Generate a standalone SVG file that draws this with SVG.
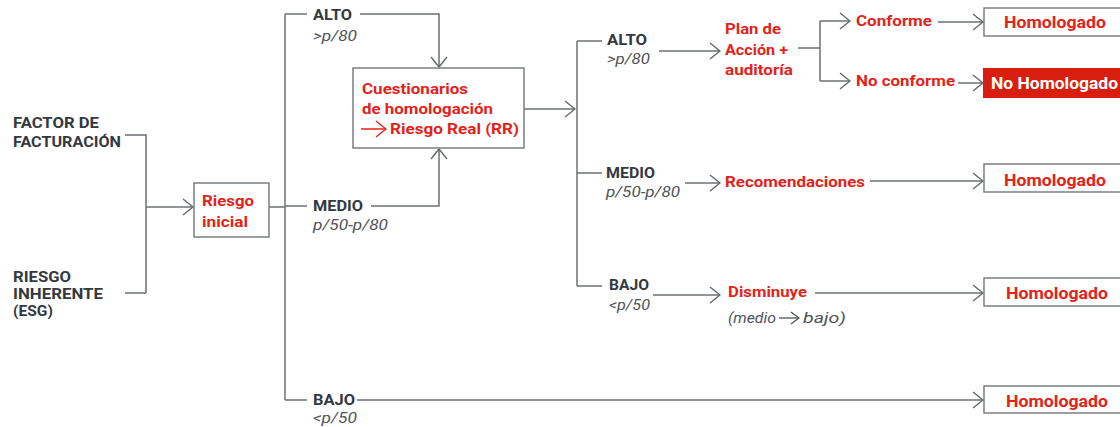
<svg xmlns="http://www.w3.org/2000/svg" width="1120" height="427" viewBox="0 0 1120 427">
<defs>
<marker id="ah" markerUnits="userSpaceOnUse" viewBox="0 0 12 18" refX="11" refY="9" markerWidth="12" markerHeight="18" orient="auto">
<path d="M1,1 L11,9 L1,17" fill="none" stroke="#62676c" stroke-width="1.4"/>
</marker>
<marker id="ahr" markerUnits="userSpaceOnUse" viewBox="0 0 12 18" refX="11" refY="9" markerWidth="12" markerHeight="18" orient="auto">
<path d="M1,1 L11,9 L1,17" fill="none" stroke="#e2231a" stroke-width="1.4"/>
</marker>
<marker id="ahs" markerUnits="userSpaceOnUse" viewBox="0 0 10 14" refX="9" refY="7" markerWidth="10" markerHeight="14" orient="auto">
<path d="M1,1 L9,7 L1,13" fill="none" stroke="#4e5358" stroke-width="1.3"/>
</marker>
</defs>
<style>
.ln{fill:none;stroke:#6b7075;stroke-width:1.5}
.box{fill:#fff;stroke:#7a7f84;stroke-width:1.5}
.lab{font-family:Roboto,"Liberation Sans",sans-serif;font-weight:700;font-size:15.5px;fill:#33393f}
.it{font-family:Roboto,"Liberation Sans",sans-serif;font-style:italic;font-size:15.5px;fill:#4e5358}
.red{font-family:Roboto,"Liberation Sans",sans-serif;font-weight:700;font-size:15px;fill:#e2231a}
.hom{font-family:Roboto,"Liberation Sans",sans-serif;font-weight:700;font-size:16px;fill:#e2231a}
.noh{font-family:Roboto,"Liberation Sans",sans-serif;font-weight:700;font-size:17px;fill:#fff}
</style>
<rect width="1120" height="427" fill="#fff"/>

<g id="connectors">
<path class="ln" d="M125,135 H146 V293 M125,293 H146"/>
<path class="ln" d="M146,207 H193" marker-end="url(#ah)"/>
<path class="ln" d="M269,207 H285"/>
<path class="ln" d="M285,14 V400"/>
<path class="ln" d="M285,14 H307"/>
<path class="ln" d="M360,14 H439 V67" marker-end="url(#ah)"/>
<path class="ln" d="M285,206 H307"/>
<path class="ln" d="M371,206 H439 V149" marker-end="url(#ah)"/>
<path class="ln" d="M285,400 H307"/>
<path class="ln" d="M357,400 H983" marker-end="url(#ah)"/>
<path class="ln" d="M524,109 H575" marker-end="url(#ah)"/>
<path class="ln" d="M577,41 V286"/>
<path class="ln" d="M577,41 H602"/>
<path class="ln" d="M659,51 H720" marker-end="url(#ah)"/>
<path class="ln" d="M798,48 H820 M820,21 V81"/>
<path class="ln" d="M820,21 H850" marker-end="url(#ah)"/>
<path class="ln" d="M820,81 H850" marker-end="url(#ah)"/>
<path class="ln" d="M938,22 H983" marker-end="url(#ah)"/>
<path class="ln" d="M958,83 H983" marker-end="url(#ah)"/>
<path class="ln" d="M577,173 H602"/>
<path class="ln" d="M685,183 H720" marker-end="url(#ah)"/>
<path class="ln" d="M870,181 H983" marker-end="url(#ah)"/>
<path class="ln" d="M577,286 H602"/>
<path class="ln" d="M653,295 H720" marker-end="url(#ah)"/>
<path class="ln" d="M815,293 H983" marker-end="url(#ah)"/>
</g>

<g id="factor-facturacion">
<text class="lab" x="13" y="128" textLength="86" lengthAdjust="spacingAndGlyphs">FACTOR DE</text>
<text class="lab" x="13" y="147" textLength="108" lengthAdjust="spacingAndGlyphs">FACTURACIÓN</text>
</g>
<g id="riesgo-inherente">
<text class="lab" x="13" y="282" textLength="58" lengthAdjust="spacingAndGlyphs">RIESGO</text>
<text class="lab" x="13" y="299" textLength="90" lengthAdjust="spacingAndGlyphs">INHERENTE</text>
<text class="lab" x="13" y="316" textLength="40" lengthAdjust="spacingAndGlyphs">(ESG)</text>
</g>
<g id="riesgo-inicial">
<rect class="box" x="194" y="183" width="75" height="54"/>
<text class="red" x="202" y="206" textLength="52" lengthAdjust="spacingAndGlyphs">Riesgo</text>
<text class="red" x="202" y="227" textLength="46" lengthAdjust="spacingAndGlyphs">inicial</text>
</g>
<g id="alto-1">
<text class="lab" x="313" y="20" textLength="39" lengthAdjust="spacingAndGlyphs">ALTO</text>
<text class="it" x="313" y="41" textLength="44" lengthAdjust="spacingAndGlyphs">&gt;p/80</text>
</g>
<g id="medio-1">
<text class="lab" x="313" y="211" textLength="50" lengthAdjust="spacingAndGlyphs">MEDIO</text>
<text class="it" x="313" y="230" textLength="75" lengthAdjust="spacingAndGlyphs">p/50-p/80</text>
</g>
<g id="bajo-1">
<text class="lab" x="313" y="405" textLength="42" lengthAdjust="spacingAndGlyphs">BAJO</text>
<text class="it" x="313" y="423" textLength="44" lengthAdjust="spacingAndGlyphs">&lt;p/50</text>
</g>
<g id="cuestionarios">
<rect class="box" x="353" y="68" width="171" height="80"/>
<text class="red" x="362" y="94" textLength="106" lengthAdjust="spacingAndGlyphs">Cuestionarios</text>
<text class="red" x="362" y="114" textLength="131" lengthAdjust="spacingAndGlyphs">de homologación</text>
<path d="M361,129 H386" fill="none" stroke="#e2231a" stroke-width="1.5" marker-end="url(#ahr)"/>
<text class="red" x="390" y="134" textLength="129" lengthAdjust="spacingAndGlyphs">Riesgo Real (RR)</text>
</g>
<g id="alto-2">
<text class="lab" x="607" y="45" textLength="40" lengthAdjust="spacingAndGlyphs">ALTO</text>
<text class="it" x="607" y="64" textLength="43" lengthAdjust="spacingAndGlyphs">&gt;p/80</text>
</g>
<g id="plan-accion">
<text class="red" x="725" y="34" textLength="56" lengthAdjust="spacingAndGlyphs">Plan de</text>
<text class="red" x="725" y="55" textLength="63" lengthAdjust="spacingAndGlyphs">Acción +</text>
<text class="red" x="725" y="75" textLength="68" lengthAdjust="spacingAndGlyphs">auditoría</text>
</g>
<g id="conforme">
<text class="red" x="856" y="26" textLength="76" lengthAdjust="spacingAndGlyphs">Conforme</text>
</g>
<g id="no-conforme">
<text class="red" x="856" y="86" textLength="99" lengthAdjust="spacingAndGlyphs">No conforme</text>
</g>
<g id="homologado-1">
<rect class="box" x="984" y="8" width="145" height="28"/>
<text class="hom" x="1004" y="28" textLength="102" lengthAdjust="spacingAndGlyphs">Homologado</text>
</g>
<g id="no-homologado">
<rect x="983" y="68" width="145" height="30" fill="#d81e0f"/>
<text class="noh" x="991" y="89" textLength="127" lengthAdjust="spacingAndGlyphs">No Homologado</text>
</g>
<g id="medio-2">
<text class="lab" x="606" y="178" textLength="49" lengthAdjust="spacingAndGlyphs">MEDIO</text>
<text class="it" x="606" y="197" textLength="74" lengthAdjust="spacingAndGlyphs">p/50-p/80</text>
</g>
<g id="recomendaciones">
<text class="red" x="725" y="187" textLength="140" lengthAdjust="spacingAndGlyphs">Recomendaciones</text>
</g>
<g id="homologado-2">
<rect class="box" x="984" y="164" width="145" height="28"/>
<text class="hom" x="1004" y="186" textLength="102" lengthAdjust="spacingAndGlyphs">Homologado</text>
</g>
<g id="bajo-2">
<text class="lab" x="609" y="290" textLength="40" lengthAdjust="spacingAndGlyphs">BAJO</text>
<text class="it" x="609" y="310" textLength="41" lengthAdjust="spacingAndGlyphs">&lt;p/50</text>
</g>
<g id="disminuye">
<text class="red" x="728" y="297" textLength="79" lengthAdjust="spacingAndGlyphs">Disminuye</text>
<text class="it" x="728" y="323" textLength="48" lengthAdjust="spacingAndGlyphs">(medio</text>
<path d="M779,318 H799" fill="none" stroke="#4e5358" stroke-width="1.3" marker-end="url(#ahs)"/>
<text class="it" x="803" y="323" textLength="43" lengthAdjust="spacingAndGlyphs">bajo)</text>
</g>
<g id="homologado-3">
<rect class="box" x="984" y="278" width="145" height="28"/>
<text class="hom" x="1006" y="299" textLength="102" lengthAdjust="spacingAndGlyphs">Homologado</text>
</g>
<g id="homologado-4">
<rect class="box" x="984" y="386" width="145" height="27"/>
<text class="hom" x="1006" y="407" textLength="102" lengthAdjust="spacingAndGlyphs">Homologado</text>
</g>
</svg>
